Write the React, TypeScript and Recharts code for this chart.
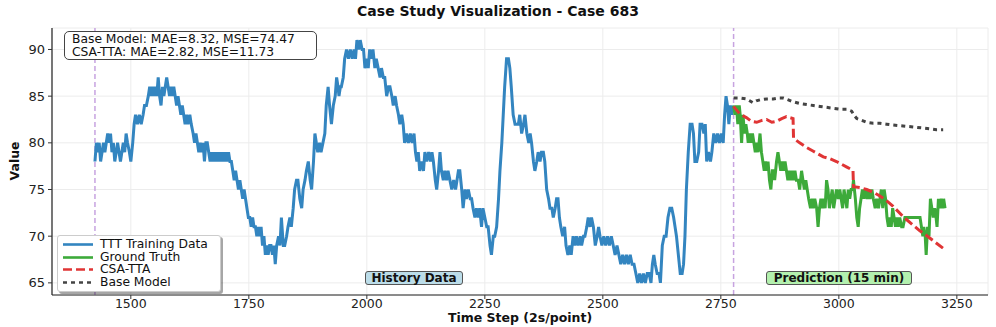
import { LineChart, Line, XAxis, YAxis, CartesianGrid, ReferenceLine } from 'recharts'

// [time step, value]
const trainingData: [number, number][] = [
  [1424, 78], [1427, 80], [1430, 79], [1433, 80], [1436, 78], [1439, 79], [1442, 80], [1445, 79], [1448, 80], [1451, 81],
  [1454, 80], [1457, 81], [1460, 79], [1463, 80], [1466, 78], [1469, 79], [1472, 80], [1475, 79], [1478, 78], [1481, 79],
  [1484, 80], [1487, 79], [1490, 81], [1493, 80], [1497, 79], [1500, 78], [1504, 80], [1507, 82], [1510, 83], [1514, 82],
  [1518, 83], [1522, 82], [1526, 83], [1529, 84], [1533, 84], [1537, 85], [1540, 86], [1543, 85], [1546, 86], [1549, 85],
  [1552, 86], [1555, 85], [1558, 87], [1561, 85], [1564, 84], [1567, 86], [1570, 85], [1573, 86], [1576, 87], [1579, 86],
  [1582, 85], [1585, 86], [1588, 85], [1591, 86], [1594, 85], [1597, 84], [1600, 85], [1603, 84], [1606, 83], [1609, 84],
  [1612, 83], [1615, 82], [1618, 83], [1621, 82], [1625, 83], [1628, 82], [1632, 81], [1635, 80], [1638, 81], [1641, 80],
  [1644, 79], [1647, 80], [1650, 79], [1653, 80], [1656, 78], [1659, 80], [1662, 80], [1665, 79], [1668, 78], [1671, 79],
  [1674, 78], [1677, 79], [1680, 78], [1683, 79], [1686, 78], [1689, 79], [1692, 78], [1695, 79], [1698, 78], [1701, 79],
  [1704, 78], [1707, 79], [1710, 78], [1713, 78], [1716, 77], [1719, 76], [1722, 77], [1725, 76], [1728, 75], [1731, 76],
  [1734, 75], [1737, 74], [1740, 75], [1743, 74], [1746, 73], [1749, 72], [1752, 72], [1755, 71], [1758, 72], [1761, 71],
  [1764, 71], [1767, 70], [1770, 71], [1773, 70], [1776, 71], [1779, 69], [1782, 70], [1785, 68], [1788, 69], [1791, 68],
  [1794, 69], [1797, 69], [1800, 68], [1803, 69], [1806, 67], [1809, 69], [1813, 70], [1816, 69], [1819, 72], [1823, 69],
  [1826, 69], [1830, 70], [1833, 71], [1837, 72], [1840, 71], [1844, 73], [1847, 75], [1851, 76], [1854, 76], [1858, 74],
  [1862, 73], [1865, 75], [1869, 76], [1872, 77], [1876, 78], [1880, 76], [1883, 75], [1887, 78], [1890, 81], [1893, 80],
  [1896, 79], [1900, 80], [1903, 79], [1907, 80], [1911, 81], [1914, 84], [1918, 86], [1921, 84], [1925, 82], [1929, 84],
  [1933, 85], [1936, 87], [1939, 86], [1941, 85], [1944, 86], [1946, 86], [1950, 87], [1953, 89], [1957, 90], [1961, 89],
  [1965, 90], [1969, 89], [1973, 90], [1976, 89], [1979, 91], [1983, 90], [1986, 91], [1990, 90], [1993, 90], [1996, 88],
  [2000, 89], [2003, 88], [2006, 90], [2010, 89], [2013, 90], [2017, 88], [2020, 89], [2024, 88], [2028, 87], [2031, 88],
  [2035, 87], [2038, 87], [2042, 85], [2046, 86], [2049, 86], [2053, 85], [2056, 84], [2060, 85], [2063, 84], [2067, 83],
  [2070, 82], [2074, 83], [2077, 82], [2080, 80], [2084, 81], [2088, 80], [2092, 81], [2096, 80], [2100, 81], [2103, 79],
  [2106, 78], [2109, 79], [2112, 77], [2116, 78], [2120, 77], [2123, 79], [2127, 78], [2131, 79], [2135, 78], [2138, 79],
  [2141, 78], [2145, 76], [2148, 75], [2152, 77], [2155, 79], [2158, 77], [2162, 76], [2165, 77], [2169, 76], [2172, 77],
  [2176, 76], [2180, 75], [2184, 76], [2188, 75], [2191, 76], [2194, 77], [2197, 77], [2201, 75], [2204, 73], [2208, 75],
  [2211, 74], [2215, 75], [2219, 74], [2222, 74], [2225, 73], [2229, 72], [2232, 73], [2236, 72], [2239, 73], [2243, 71],
  [2246, 73], [2250, 72], [2254, 71], [2257, 71], [2261, 69], [2264, 68], [2268, 70], [2271, 70], [2275, 71], [2279, 74],
  [2282, 77], [2286, 80], [2289, 83], [2292, 86], [2296, 89], [2300, 89], [2303, 88], [2306, 86], [2310, 83], [2314, 82],
  [2318, 82], [2321, 82], [2324, 83], [2328, 81], [2332, 82], [2335, 83], [2339, 81], [2343, 80], [2346, 81], [2349, 80],
  [2353, 78], [2356, 77], [2360, 78], [2363, 79], [2367, 78], [2370, 79], [2374, 79], [2377, 78], [2381, 75], [2385, 74],
  [2388, 73], [2392, 73], [2395, 72], [2399, 73], [2402, 74], [2405, 74], [2408, 72], [2411, 71], [2415, 70], [2419, 71],
  [2422, 69], [2426, 68], [2430, 69], [2433, 68], [2437, 70], [2441, 69], [2444, 70], [2448, 69], [2452, 70], [2455, 69],
  [2459, 70], [2462, 70], [2466, 71], [2469, 72], [2473, 71], [2476, 72], [2480, 71], [2484, 69], [2488, 70], [2491, 71],
  [2494, 70], [2498, 69], [2502, 70], [2506, 69], [2510, 70], [2514, 69], [2518, 70], [2522, 69], [2526, 68], [2530, 69],
  [2534, 68], [2538, 67], [2542, 68], [2546, 67], [2550, 68], [2554, 67], [2558, 68], [2562, 67], [2566, 67], [2570, 66],
  [2574, 65], [2578, 66], [2582, 65], [2586, 66], [2590, 65], [2594, 66], [2598, 66], [2602, 65], [2605, 67], [2608, 68],
  [2611, 67], [2615, 66], [2619, 66], [2622, 65], [2626, 69], [2630, 70], [2634, 70], [2638, 72], [2642, 73], [2646, 73],
  [2650, 72], [2653, 71], [2656, 70], [2660, 68], [2664, 66], [2668, 66], [2671, 67], [2674, 70], [2677, 75], [2681, 79],
  [2685, 82], [2689, 82], [2692, 81], [2695, 78], [2699, 78], [2703, 79], [2706, 82], [2710, 82], [2714, 81], [2717, 82],
  [2720, 78], [2724, 79], [2728, 78], [2731, 79], [2735, 81], [2739, 80], [2743, 81], [2747, 80], [2751, 81], [2755, 80],
  [2758, 83], [2761, 85], [2764, 84], [2767, 82], [2770, 84], [2773, 83], [2776, 84],
]

const groundTruth: [number, number][] = [
  [2777, 84], [2780, 83], [2783, 84], [2786, 82], [2789, 84], [2791, 83], [2794, 80], [2797, 83], [2800, 81], [2803, 82],
  [2806, 81], [2808, 80], [2811, 81], [2814, 80], [2817, 81], [2820, 80], [2823, 79], [2826, 80], [2829, 79], [2833, 81],
  [2836, 79], [2839, 78], [2842, 77], [2845, 78], [2847, 77], [2850, 78], [2853, 76], [2856, 75], [2859, 77], [2862, 77],
  [2864, 76], [2868, 78], [2871, 79], [2874, 78], [2877, 77], [2880, 78], [2883, 77], [2886, 78], [2889, 77], [2892, 76],
  [2895, 77], [2898, 76], [2901, 77], [2904, 76], [2907, 77], [2910, 76], [2914, 76], [2917, 75], [2921, 77], [2924, 76],
  [2927, 75], [2930, 76], [2933, 75], [2936, 74], [2940, 73], [2943, 74], [2946, 73], [2949, 74], [2953, 73], [2956, 71],
  [2959, 73], [2962, 74], [2965, 73], [2968, 74], [2971, 73], [2974, 76], [2977, 75], [2980, 73], [2983, 74], [2986, 75],
  [2989, 73], [2992, 74], [2995, 75], [2999, 74], [3002, 75], [3005, 74], [3008, 73], [3011, 75], [3014, 74], [3017, 73],
  [3020, 75], [3023, 74], [3026, 75], [3029, 75], [3031, 76], [3035, 74], [3038, 72], [3041, 71], [3044, 73], [3047, 74],
  [3050, 75], [3053, 74], [3056, 75], [3060, 74], [3063, 75], [3066, 74], [3070, 75], [3073, 74], [3077, 73], [3080, 74],
  [3084, 73], [3087, 74], [3090, 75], [3093, 73], [3096, 75], [3099, 74], [3102, 72], [3105, 71], [3108, 72], [3111, 71],
  [3114, 73], [3117, 72], [3120, 71], [3123, 72], [3126, 71], [3129, 72], [3133, 71], [3136, 71], [3140, 72], [3172, 72],
  [3175, 71], [3178, 70], [3180, 71], [3183, 70], [3185, 68], [3188, 71], [3191, 70], [3194, 74], [3197, 73], [3200, 72],
  [3203, 73], [3206, 72], [3208, 71], [3211, 74], [3214, 73], [3217, 74], [3220, 73], [3222, 74], [3225, 73],
]

const csaTta: [number, number][] = [
  [2777, 83.9], [2790, 83.1], [2804, 82.7], [2815, 82.3], [2826, 82.2], [2837, 82.4], [2847, 82.5], [2858, 82.2],
  [2868, 82.3], [2879, 82.6], [2889, 82.8], [2896, 82.7], [2903, 82.6], [2904, 80.5], [2917, 80], [2932, 79.5],
  [2946, 79.1], [2967, 78.5], [2981, 78.3], [2995, 78], [3017, 77.4], [3030, 77.05], [3031, 75.3], [3045, 75.2],
  [3059, 75], [3073, 74.7], [3087, 74.3], [3101, 73.8], [3115, 73.2], [3136, 72.1], [3157, 71.2], [3171, 70.6],
  [3185, 70.1], [3203, 69.4], [3221, 68.7],
]

const baseModel: [number, number][] = [
  [2777, 84.8], [2790, 84.8], [2804, 84.7], [2811, 84.5], [2818, 84.3], [2825, 84.5], [2833, 84.6], [2847, 84.7],
  [2861, 84.7], [2872, 84.8], [2882, 84.8], [2893, 84.6], [2903, 84.4], [2918, 84.2], [2932, 84.1], [2946, 84],
  [2960, 83.9], [2974, 83.8], [2988, 83.7], [3003, 83.6], [3017, 83.6], [3027, 83.4], [3033, 82.9], [3038, 82.6],
  [3059, 82.2], [3073, 82.1], [3087, 82.1], [3101, 82], [3115, 81.9], [3136, 81.8], [3157, 81.7], [3175, 81.6],
  [3193, 81.5], [3207, 81.4], [3221, 81.4],
]

const xTicks = [1500, 1750, 2000, 2250, 2500, 2750, 3000, 3250]
const yTicks = [65, 70, 75, 80, 85, 90]
const historyStart = 1424
const predictionStart = 2777

const toRows = (pts: [number, number][]) => pts.map(([t, v]) => ({ t, v }))

const COLORS = {
  train: '#3385c0',
  truth: '#3daa3a',
  csa: '#e03535',
  base: '#444444',
  split: '#c7a3e0',
}

const FONT = '"DejaVu Sans", Verdana, sans-serif'

const legendItems = [
  { label: 'TTT Training Data', color: COLORS.train, dash: undefined },
  { label: 'Ground Truth', color: COLORS.truth, dash: undefined },
  { label: 'CSA-TTA', color: COLORS.csa, dash: '9 4' },
  { label: 'Base Model', color: COLORS.base, dash: '4 4' },
]

export default function App() {
  return (
    <div style={{ position: 'absolute', left: 0, top: 0, width: 996, height: 327, background: '#fff', fontFamily: FONT }}>
      <LineChart width={996} height={327} margin={{ top: 28, right: 8, bottom: 0, left: 12 }} style={{ fontFamily: FONT }}>
        <CartesianGrid stroke="#ececec" strokeWidth={1} />
        <XAxis
          type="number"
          dataKey="t"
          domain={[1333, 3316]}
          ticks={xTicks}
          allowDataOverflow
          height={32}
          tick={{ fontSize: 12.5, fill: '#222' }}
          tickSize={4}
          tickMargin={0}
          tickLine={{ stroke: '#333' }}
          axisLine={{ stroke: '#222', strokeWidth: 1.2 }}
        />
        <YAxis
          type="number"
          domain={[63.7, 92.3]}
          ticks={yTicks}
          allowDataOverflow
          width={40}
          tick={{ fontSize: 13, fill: '#222' }}
          tickSize={4}
          tickMargin={3}
          tickLine={{ stroke: '#333' }}
          axisLine={{ stroke: '#222', strokeWidth: 1.2 }}
        />
        <ReferenceLine x={historyStart} stroke={COLORS.split} strokeWidth={1.5} strokeDasharray="5 3" />
        <ReferenceLine x={predictionStart} stroke={COLORS.split} strokeWidth={1.5} strokeDasharray="5 3" />
        <Line data={toRows(trainingData)} dataKey="v" type="linear" stroke={COLORS.train} strokeWidth={3} strokeLinejoin="miter" dot={false} isAnimationActive={false} />
        <Line data={toRows(groundTruth)} dataKey="v" type="linear" stroke={COLORS.truth} strokeWidth={3} strokeLinejoin="miter" dot={false} isAnimationActive={false} />
        <Line data={toRows(csaTta)} dataKey="v" type="linear" stroke={COLORS.csa} strokeWidth={3} strokeDasharray="9 4" dot={false} isAnimationActive={false} />
        <Line data={toRows(baseModel)} dataKey="v" type="linear" stroke={COLORS.base} strokeWidth={3} strokeDasharray="4 4" dot={false} isAnimationActive={false} />
      </LineChart>

      {/* title */}
      <div style={{ position: 'absolute', left: 0, width: 996, top: 3, textAlign: 'center', fontSize: 14, fontWeight: 700, color: '#111' }}>
        Case Study Visualization - Case 683
      </div>

      {/* axis labels */}
      <div style={{ position: 'absolute', left: 52, width: 936, top: 312, lineHeight: '12px', textAlign: 'center', fontSize: 12.5, fontWeight: 700, color: '#111' }}>
        Time Step (2s/point)
      </div>
      <div
        style={{
          position: 'absolute', left: 14, top: 161, transform: 'translate(-50%, -50%) rotate(-90deg)',
          fontSize: 12.5, fontWeight: 700, color: '#111', whiteSpace: 'nowrap',
        }}
      >
        Value
      </div>

      {/* metrics box */}
      <div
        style={{
          position: 'absolute', left: 64, top: 31, width: 244, height: 26, padding: '1px 0 0 7px',
          border: '1px solid #444', borderRadius: 5, background: '#fff', fontSize: 12.3, lineHeight: '12.5px', color: '#111',
        }}
      >
        <div>Base Model: MAE=8.32, MSE=74.47</div>
        <div>CSA-TTA: MAE=2.82, MSE=11.73</div>
      </div>

      {/* region labels */}
      <div
        style={{
          position: 'absolute', left: 365, top: 271, width: 96, height: 12, border: '1px solid #555', borderRadius: 3,
          background: '#bcdde9', fontSize: 12, fontWeight: 700, lineHeight: '12px', textAlign: 'center', color: '#111',
        }}
      >
        History Data
      </div>
      <div
        style={{
          position: 'absolute', left: 766, top: 271, width: 144, height: 12, border: '1px solid #555', borderRadius: 3,
          background: '#b3f0ae', fontSize: 12, fontWeight: 700, lineHeight: '12px', textAlign: 'center', color: '#111',
        }}
      >
        Prediction (15 min)
      </div>

      {/* legend */}
      <div
        style={{
          position: 'absolute', left: 57, top: 235, width: 162, height: 55, border: '1px solid #ccc', borderRadius: 3,
          background: '#fff', boxShadow: '2px 2px 0 rgba(0,0,0,0.35)',
        }}
      >
        {legendItems.map((item, i) => (
          <div key={item.label} style={{ position: 'absolute', left: 0, top: 2 + i * 12.7, height: 13, display: 'flex', alignItems: 'center' }}>
            <svg width={42} height={13} style={{ display: 'block' }}>
              <line x1={5} y1={6.5} x2={35} y2={6.5} stroke={item.color} strokeWidth={2.6} strokeDasharray={item.dash} />
            </svg>
            <span style={{ fontSize: 12.3, lineHeight: '13px', color: '#111', whiteSpace: 'nowrap' }}>{item.label}</span>
          </div>
        ))}
      </div>
    </div>
  )
}
